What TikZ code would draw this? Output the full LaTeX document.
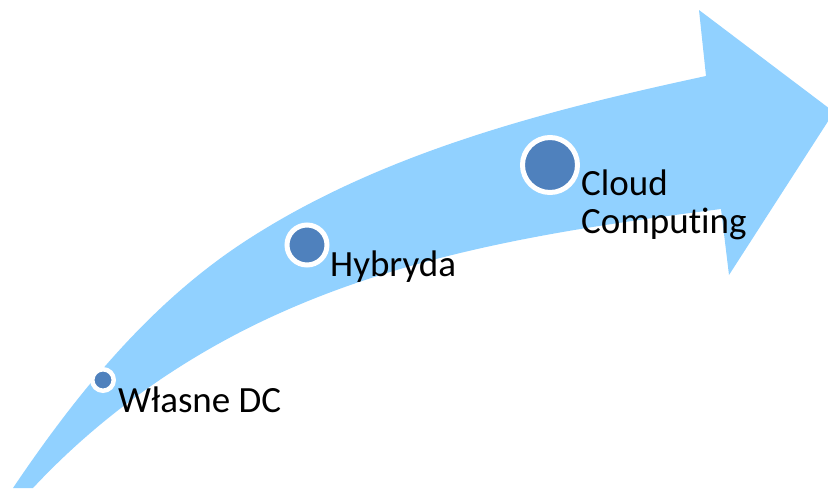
\documentclass[tikz,border=0pt]{standalone}
\usepackage{fontspec}
\setmainfont{Carlito}[Ligatures={NoCommon}]
\definecolor{arrowblue}{RGB}{145,209,255}
\definecolor{dotblue}{RGB}{79,129,189}
\begin{document}
\begin{tikzpicture}[x=1pt,y=-1pt,
  dot/.style={circle,fill=dotblue,draw=white,inner sep=0pt},
  lbl/.style={inner sep=0pt,anchor=base west,font=\fontsize{37}{38}\selectfont,align=left}]
\useasboundingbox (0,0) rectangle (828,488);
\clip (0,0) rectangle (828,488);
\fill[arrowblue] (13,488) .. controls (77,393) and (151,302) .. (247,240)
  .. controls (383,152) and (548,110) .. (706,76)
  -- (699,10) -- (834,112) -- (729,275) -- (721,209)
  .. controls (571,228) and (418,251) .. (280,313)
  .. controls (188,354) and (102,414) .. (33,488) -- cycle;
\node[dot,line width=4.5pt,minimum size=21.5pt] (dc) at (103,380) {};
\node[dot,line width=5pt,minimum size=40pt] (hyb) at (307,245) {};
\node[dot,line width=5pt,minimum size=55pt] (cloud) at (550,165) {};
\node[lbl] (tdc) at (118,412) {Własne DC};
\node[lbl] (thyb) at (330,276) {Hybryda};
\node[lbl] (tcloud) at (581,233) {Cloud\\Computing};
\end{tikzpicture}
\end{document}
